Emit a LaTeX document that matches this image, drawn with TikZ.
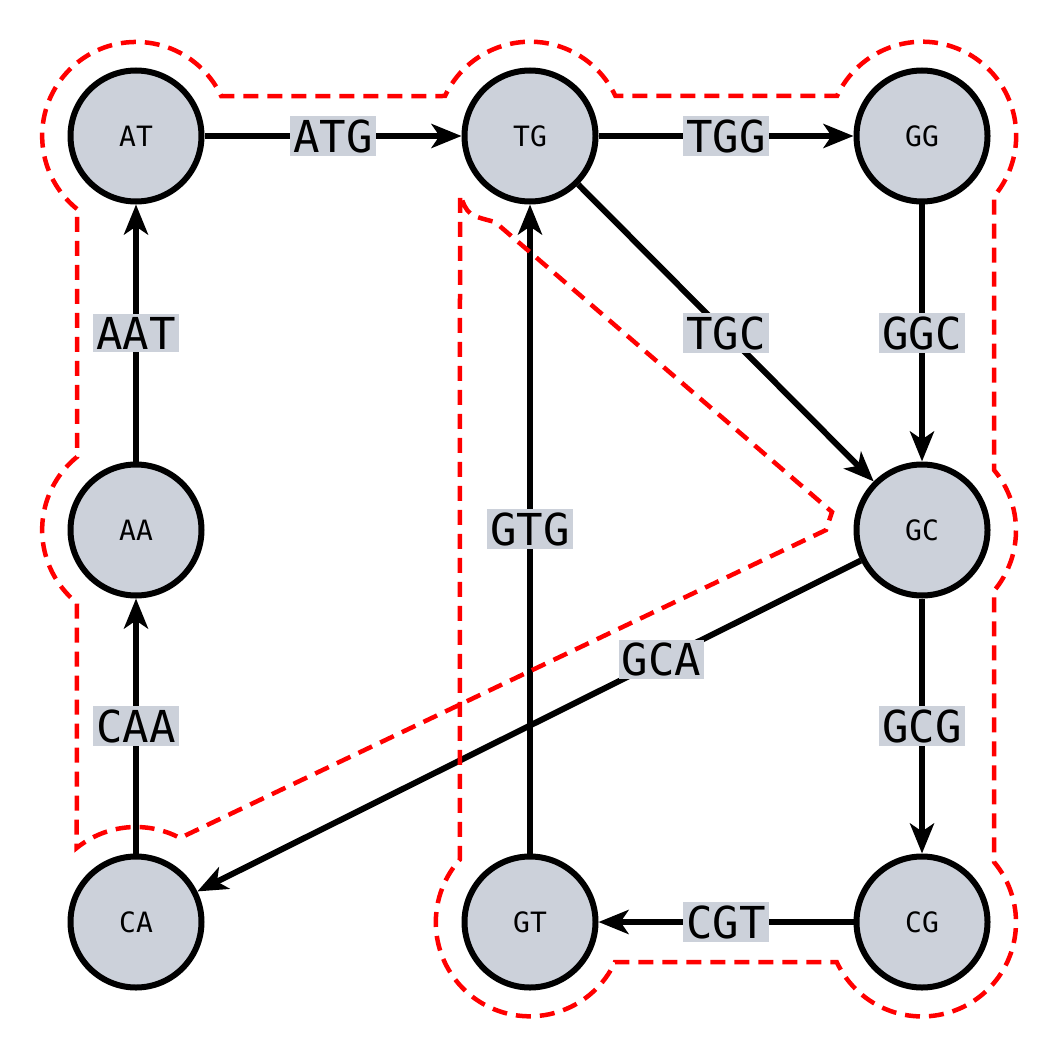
\documentclass[tikz,border=0pt]{standalone}
\usepackage{fontspec}
\setmainfont{DejaVu Sans Mono}
\usetikzlibrary{arrows.meta}
\definecolor{gr}{RGB}{204,209,218}
\begin{document}
\begin{tikzpicture}[x=1pt,y=-1pt,
 v/.style={circle,draw,line width=6pt,fill=gr,minimum size=131pt,inner sep=0pt,font=\fontsize{28}{30}\selectfont},
 e/.style={line width=6pt,-{Stealth[length=30pt,width=24pt,inset=8pt]}},
 l/.style={fill=gr,inner sep=3pt,font=\fontsize{44}{46}\selectfont},
 rd/.style={red,line width=4.5pt,dash pattern=on 15pt off 9pt}]
\useasboundingbox (0,0) rectangle (1059,1059);
\node[v] (AT) at (136,136) {AT};
\node[v] (TG) at (530,136) {TG};
\node[v] (GG) at (922,136) {GG};
\node[v] (AA) at (136,530) {AA};
\node[v] (GC) at (922,530) {GC};
\node[v] (CA) at (136,922) {CA};
\node[v] (GT) at (530,922) {GT};
\node[v] (CG) at (922,922) {CG};
\draw[e] (AT) -- node[l]{ATG} (TG);
\draw[e] (TG) -- node[l]{TGG} (GG);
\draw[e] (GG) -- node[l]{GGC} (GC);
\draw[e] (TG) -- node[l]{TGC} (GC);
\draw[e] (GC) -- node[l]{GCG} (CG);
\draw[e] (CG) -- node[l]{CGT} (GT);
\draw[e] (GT) -- node[l]{GTG} (TG);
\draw[e] (GC) -- node[l,pos=0.3]{GCA} (CA);
\draw[e] (CA) -- node[l]{CAA} (AA);
\draw[e] (AA) -- node[l]{AAT} (AT);
\draw[rd] (77,209) arc[start angle=129,end angle=335,radius=94]
 -- (445,96) arc[start angle=205,end angle=335,radius=94]
 -- (837,96) arc[start angle=205,end angle=400,radius=94]
 -- (994,470) arc[start angle=-40,end angle=40,radius=94]
 -- (994,862) arc[start angle=-40,end angle=155,radius=94]
 -- (615,962) arc[start angle=25,end angle=222,radius=94]
 -- (460,195) .. controls (468,215) .. (495,222)
 -- (832,512) -- (826,530) -- (180,838)
 arc[start angle=-62,end angle=-129,radius=94]
 -- (77,603) arc[start angle=129,end angle=231,radius=94]
 -- cycle;
\end{tikzpicture}
\end{document}
